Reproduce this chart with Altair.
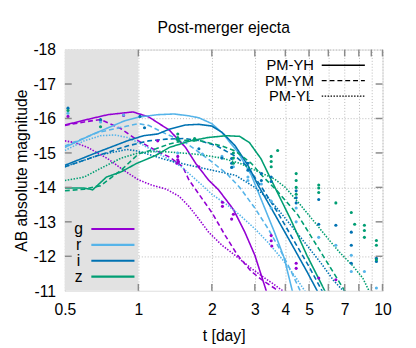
import altair as alt
import pandas as pd

# ---------------- data ----------------
bands = ["g", "r", "i", "z"]
band_colors = ["#9400D3", "#56B4E9", "#0072B2", "#009E73"]
models = ["PM-YH", "PM-YM", "PM-YL"]

# model light curves: t [day], AB magnitude
g_YH_t = [0.5, 0.6, 0.75, 0.95, 1.1, 1.34, 1.56, 1.72, 1.94, 2.13, 2.45, 2.73, 3.0, 3.34, 3.5]
g_YH_m = [-15.81, -15.95, -16.11, -16.19, -16.05, -15.66, -15.16, -14.69, -14.21, -13.93, -13.36, -12.70, -12.03, -11.0, -10.6]
g_YM_t = [0.5, 0.6, 0.7, 0.85, 1.0, 1.18, 1.34, 1.52, 1.61, 1.72, 2.0, 2.27, 2.55, 2.9, 3.2, 3.6, 3.8]
g_YM_m = [-15.8, -15.9, -15.97, -15.7, -15.35, -15.07, -14.88, -14.6, -14.22, -13.93, -13.27, -12.6, -12.03, -11.56, -11.32, -11.08, -10.95]
g_YL_t = [0.5, 0.55, 0.62, 0.75, 0.87, 1.0, 1.13, 1.3, 1.47, 1.61, 1.77, 1.94, 2.2, 2.49, 2.9, 3.29, 3.6, 3.9]
g_YL_m = [-15.35, -15.3, -15.16, -14.83, -14.5, -14.22, -14.07, -13.95, -13.74, -13.45, -13.08, -12.7, -12.32, -12.03, -11.65, -11.37, -11.18, -11.0]

r_YH_t = [0.5, 0.65, 0.87, 1.0, 1.2, 1.4, 1.6, 1.77, 2.0, 2.2, 2.56, 2.9, 3.09, 3.61, 3.96, 4.27, 4.4]
r_YH_m = [-15.16, -15.54, -15.92, -16.04, -16.11, -16.13, -16.08, -16.02, -15.85, -15.59, -15.02, -14.36, -13.88, -12.7, -11.94, -11.0, -10.7]
r_YM_t = [0.5, 0.68, 0.9, 1.0, 1.1, 1.3, 1.56, 1.77, 2.0, 2.3, 2.6, 3.0, 3.4, 3.8, 4.2, 4.6, 4.8]
r_YM_m = [-15.2, -15.59, -15.78, -15.85, -15.8, -15.55, -15.3, -15.02, -14.74, -14.4, -14.0, -13.4, -12.8, -12.2, -11.6, -11.0, -10.7]
r_YL_t = [0.5, 0.6, 0.7, 0.8, 0.9, 1.0, 1.2, 1.5, 1.8, 2.0, 2.3, 2.6, 3.0, 3.4, 3.9, 4.4, 4.8, 5.0]
r_YL_m = [-15.07, -15.35, -15.5, -15.52, -15.45, -15.3, -15.0, -14.6, -14.1, -13.8, -13.5, -13.2, -12.8, -12.4, -11.9, -11.4, -11.0, -10.8]

i_YH_t = [0.5, 0.68, 0.9, 1.05, 1.2, 1.34, 1.56, 1.77, 2.0, 2.2, 2.49, 2.81, 3.1, 3.5, 4.2, 4.9, 5.4, 5.6]
i_YH_m = [-14.64, -15.02, -15.35, -15.5, -15.55, -15.69, -15.81, -15.83, -15.78, -15.6, -15.21, -14.64, -14.05, -13.4, -12.41, -11.56, -11.0, -10.7]
i_YM_t = [0.5, 0.7, 0.9, 1.1, 1.3, 1.55, 1.8, 2.1, 2.5, 2.8, 3.2, 3.7, 4.3, 5.0, 5.65, 5.9]
i_YM_m = [-14.6, -14.95, -15.2, -15.35, -15.4, -15.42, -15.35, -15.2, -14.9, -14.6, -14.0, -13.3, -12.5, -11.7, -11.0, -10.7]
i_YL_t = [0.5, 0.7, 0.9, 1.0, 1.3, 1.6, 2.0, 2.5, 3.0, 3.5, 4.0, 4.8, 5.6, 6.3, 6.9, 7.2]
i_YL_m = [-14.6, -14.95, -15.1, -15.05, -14.8, -14.65, -14.5, -14.35, -14.0, -13.6, -13.1, -12.4, -11.8, -11.3, -11.0, -10.8]

z_YH_t = [0.5, 0.6, 0.65, 0.74, 0.85, 0.98, 1.18, 1.34, 1.63, 1.94, 2.3, 2.6, 2.85, 3.18, 3.5, 4.2, 4.9, 5.8, 6.0]
z_YH_m = [-13.98, -13.98, -13.93, -14.3, -14.45, -14.69, -14.93, -15.16, -15.35, -15.45, -15.5, -15.48, -15.3, -14.83, -14.22, -13.08, -12.03, -11.0, -10.7]
z_YM_t = [0.5, 0.6, 0.7, 0.85, 1.0, 1.18, 1.34, 1.56, 1.8, 2.2, 2.5, 2.9, 3.2, 3.7, 4.5, 5.5, 7.0, 7.3]
z_YM_m = [-13.9, -13.95, -14.05, -14.5, -14.97, -15.12, -15.26, -15.37, -15.35, -15.2, -15.05, -14.7, -14.35, -13.9, -13.2, -12.2, -11.0, -10.8]
z_YL_t = [0.5, 0.6, 0.7, 0.85, 1.0, 1.2, 1.5, 1.8, 2.2, 2.6, 3.0, 3.6, 4.0, 4.6, 5.4, 6.0, 6.7, 7.5, 8.3, 8.8, 9.2]
z_YL_m = [-14.2, -14.3, -14.55, -14.85, -15.0, -15.05, -15.0, -14.95, -14.85, -14.7, -14.5, -14.25, -14.0, -13.5, -12.9, -12.5, -12.1, -11.75, -11.37, -11.0, -10.8]

# observed photometry (points)
g_obs_t = [0.515, 0.70, 0.87, 1.20, 1.45, 1.45, 1.46, 1.44, 1.77, 2.21, 2.21, 2.45, 2.41, 3.5, 3.5, 3.52, 4.43, 4.43, 5.48, 6.44]
g_obs_m = [-16.06, -15.95, -16.09, -15.35, -14.9, -14.8, -14.75, -14.7, -14.6, -13.57, -13.45, -13.22, -13.08, -12.6, -12.45, -12.3, -11.8, -11.65, -11.37, -11.32]
r_obs_t = [0.515, 0.70, 0.87, 1.45, 1.83, 2.2, 2.45, 2.81, 2.81, 3.19, 3.5, 3.5, 4.43, 4.43, 5.48, 6.44, 7.45, 7.45, 8.43, 9.44]
r_obs_m = [-16.15, -15.9, -16.1, -15.0, -14.97, -14.9, -14.6, -14.3, -14.2, -14.1, -13.6, -13.4, -13.4, -13.0, -12.55, -12.32, -12.03, -11.56, -11.56, -11.08]
i_obs_t = [0.515, 0.70, 1.015, 1.06, 1.45, 1.77, 2.2, 2.41, 2.41, 2.41, 2.81, 2.81, 3.19, 3.19, 3.5, 3.5, 4.43, 4.43, 4.43, 5.48, 5.48, 6.44, 7.45, 7.45, 7.45, 9.44, 9.44]
i_obs_m = [-16.3, -15.97, -16.06, -15.73, -15.4, -15.12, -14.85, -14.84, -14.7, -14.58, -14.7, -14.5, -14.4, -14.2, -14.3, -14.17, -13.9, -13.7, -13.55, -13.65, -12.93, -12.9, -12.7, -12.32, -11.8, -11.94, -11.85]
z_obs_t = [0.515, 0.70, 1.45, 1.45, 1.44, 1.46, 1.69, 1.70, 2.45, 2.45, 2.45, 3.5, 3.5, 3.5, 3.72, 4.43, 4.43, 4.43, 4.43, 5.48, 5.48, 5.48, 6.44, 7.45, 7.69, 8.43, 8.43, 8.43, 9.44, 9.44, 9.44]
z_obs_m = [-16.23, -15.76, -15.55, -15.45, -15.4, -15.35, -15.37, -15.42, -15.0, -14.85, -14.7, -14.9, -14.75, -14.6, -15.07, -14.4, -14.2, -14.0, -13.8, -14.07, -13.98, -13.85, -13.55, -13.27, -12.93, -12.9, -12.75, -12.55, -12.46, -12.32, -11.9]

x_ticks = [0.5, 1, 2, 3, 4, 5, 6, 7, 8, 9, 10]
y_ticks = [-18, -17, -16, -15, -14, -13, -12, -11]
y_tick_labels = ["-18", "-17", "-16", "-15", "-14", "-13", "-12", "-11"]
shade_t = [0.5, 1.0]

# ---------------- tables ----------------
curves = {
    ("g", "PM-YH"): (g_YH_t, g_YH_m), ("g", "PM-YM"): (g_YM_t, g_YM_m), ("g", "PM-YL"): (g_YL_t, g_YL_m),
    ("r", "PM-YH"): (r_YH_t, r_YH_m), ("r", "PM-YM"): (r_YM_t, r_YM_m), ("r", "PM-YL"): (r_YL_t, r_YL_m),
    ("i", "PM-YH"): (i_YH_t, i_YH_m), ("i", "PM-YM"): (i_YM_t, i_YM_m), ("i", "PM-YL"): (i_YL_t, i_YL_m),
    ("z", "PM-YH"): (z_YH_t, z_YH_m), ("z", "PM-YM"): (z_YM_t, z_YM_m), ("z", "PM-YL"): (z_YL_t, z_YL_m),
}
rows = []
for (b, mdl), (ts, ms) in curves.items():
    for t, m in zip(ts, ms):
        rows.append({"band": b, "model": mdl, "key": b + mdl, "t": t, "mag": m})
curve_df = pd.DataFrame(rows)

obs = {"g": (g_obs_t, g_obs_m), "r": (r_obs_t, r_obs_m), "i": (i_obs_t, i_obs_m), "z": (z_obs_t, z_obs_m)}
obs_df = pd.DataFrame([{"band": b, "t": t, "mag": m} for b, (ts, ms) in obs.items() for t, m in zip(ts, ms)])

W, H = 324, 246
FONT = "Liberation Sans"

xscale = alt.Scale(type="log", domain=[0.5, 10], nice=False)
yscale = alt.Scale(domain=[-18, -11], reverse=True, nice=False)
cscale = alt.Scale(domain=bands, range=band_colors)
dscale = alt.Scale(domain=models, range=[[1, 0], [5, 3], [1.5, 1.5]])

shade = alt.Chart(pd.DataFrame({"t0": [shade_t[0]], "t1": [shade_t[1]]})).mark_rect(
    color="#e2e2e2"
).encode(
    x=alt.X("t0:Q", scale=xscale,
            axis=alt.Axis(values=x_ticks, title="t [day]", tickSize=0, domain=False,
                          labelExpr="(datum.value==6||datum.value==8||datum.value==9) ? '' : '' + datum.value",
                          labelFontSize=16, labelFont=FONT, labelColor="#000", labelPadding=11,
                          labelOverlap=False,
                          titleFontSize=16, titleFont=FONT, titleFontWeight="normal", titlePadding=11,
                          grid=True, gridDash=[1, 2], gridColor="#b8b8b8", gridWidth=1, labelFlush=False)),
    x2="t1:Q",
    y=alt.value(0), y2=alt.value(H),
)

# y axis: grid + title from the axis, tick labels as text marks placed through the y scale
yaxis_layer = alt.Chart(pd.DataFrame({"v": y_ticks, "lab": y_tick_labels})).mark_text(
    align="right", baseline="middle", fontSize=16, font=FONT, color="#000", dx=-9, dy=1
).encode(
    y=alt.Y("v:Q", scale=yscale,
            axis=alt.Axis(values=y_ticks, title="AB absolute magnitude", tickSize=0, domain=False,
                          labels=False,
                          titleFontSize=16, titleFont=FONT, titleFontWeight="normal", titlePadding=36,
                          grid=True, gridDash=[1, 2], gridColor="#b8b8b8", gridWidth=1)),
    x=alt.value(0),
    text="lab:N",
)

lines = alt.Chart(curve_df).mark_line(strokeWidth=1.6, clip=True).encode(
    x=alt.X("t:Q", scale=xscale),
    y=alt.Y("mag:Q", scale=yscale),
    color=alt.Color("band:N", scale=cscale, legend=None),
    strokeDash=alt.StrokeDash("model:N", scale=dscale, legend=None),
    detail="key:N",
)

points = alt.Chart(obs_df).mark_circle(size=10, opacity=1, clip=True).encode(
    x=alt.X("t:Q", scale=xscale),
    y=alt.Y("mag:Q", scale=yscale),
    color=alt.Color("band:N", scale=cscale, legend=None),
)

# inward ticks (gnuplot style)
xt = pd.DataFrame({"t": x_ticks[1:]})
yt = pd.DataFrame({"v": y_ticks[1:-1]})
tick_style = dict(color="#8a8a8a", strokeWidth=1.5)
ticks_bottom = alt.Chart(xt).mark_rule(**tick_style).encode(x=alt.X("t:Q", scale=xscale), y=alt.value(H), y2=alt.value(H - 7))
ticks_top = alt.Chart(xt).mark_rule(**tick_style).encode(x=alt.X("t:Q", scale=xscale), y=alt.value(0), y2=alt.value(7))
ticks_left = alt.Chart(yt).mark_rule(**tick_style).encode(y=alt.Y("v:Q", scale=yscale), x=alt.value(0), x2=alt.value(7))
ticks_right = alt.Chart(yt).mark_rule(**tick_style).encode(y=alt.Y("v:Q", scale=yscale), x=alt.value(W), x2=alt.value(W - 7))

# legends
leg_layers = []
model_dash = {"PM-YH": [1, 0], "PM-YM": [5, 3], "PM-YL": [1.5, 1.5]}
for k, mdl in enumerate(models):
    yy = 16 + k * 15.7
    leg_layers.append(alt.Chart(pd.DataFrame({"label": [mdl]})).mark_text(
        align="right", baseline="middle", fontSize=15, font=FONT, color="#000"
    ).encode(text="label:N", x=alt.value(254), y=alt.value(yy)))
    leg_layers.append(alt.Chart(pd.DataFrame({"label": [mdl]})).mark_rule(
        color="#000", strokeWidth=1.3, strokeDash=model_dash[mdl]
    ).encode(x=alt.value(262), x2=alt.value(306), y=alt.value(yy)))
for k, (b, c) in enumerate(zip(bands, band_colors)):
    yy = 183 + k * 16.2
    leg_layers.append(alt.Chart(pd.DataFrame({"label": [b]})).mark_text(
        align="center", baseline="middle", fontSize=16, font=FONT, color="#000"
    ).encode(text="label:N", x=alt.value(14), y=alt.value(yy)))
    leg_layers.append(alt.Chart(pd.DataFrame({"label": [b]})).mark_rule(
        color=c, strokeWidth=2.2
    ).encode(x=alt.value(27), x2=alt.value(71), y=alt.value(yy)))

chart = alt.layer(
    shade, yaxis_layer, lines, points, ticks_bottom, ticks_top, ticks_left, ticks_right, *leg_layers
).properties(
    width=W, height=H,
    title=alt.TitleParams("Post-merger ejecta", fontSize=16, font=FONT, fontWeight="normal",
                          anchor="middle", offset=7, color="#000"),
    autosize=alt.AutoSizeParams(type="none"),
    padding={"left": 58, "top": 39, "right": 26, "bottom": 55},
).configure_view(
    stroke="#444", strokeWidth=1.2
).configure(background="white")

chart.save("out.html", embed_options={"renderer": "svg", "actions": False})
